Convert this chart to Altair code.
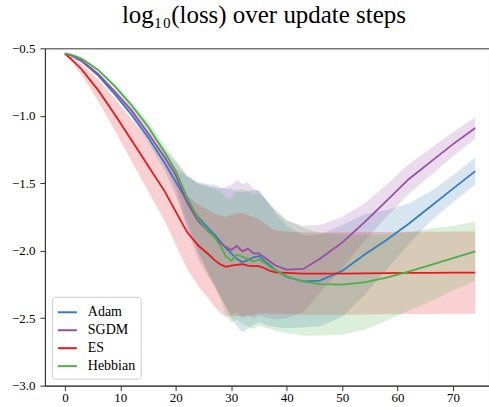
import altair as alt
import pandas as pd

# Update steps at which the curves are sampled
steps = [0, 1, 3, 6, 9, 12, 15, 18, 20, 22, 24, 26, 27, 28, 29, 30, 31, 32, 33,
         34, 35, 36, 37, 38, 40, 43, 46, 50, 54, 58, 62, 66, 70, 74]

methods = ["Adam", "SGDM", "ES", "Hebbian"]
colors = ["#377eb8", "#984ea3", "#e41a1c", "#4daf4a"]

# Mean log10(loss) per method
adam_mean = [-0.54, -0.55, -0.595, -0.70, -0.84, -0.99, -1.16, -1.35, -1.49, -1.63, -1.75,
             -1.84, -1.88, -1.93, -1.98, -2.02, -2.06, -2.085, -2.07, -2.05, -2.04, -2.075,
             -2.11, -2.145, -2.195, -2.228, -2.222, -2.15, -2.03, -1.92, -1.80, -1.67, -1.54, -1.41]
sgdm_mean = [-0.54, -0.55, -0.59, -0.69, -0.82, -0.96, -1.13, -1.31, -1.44, -1.64, -1.78,
             -1.86, -1.90, -1.94, -1.97, -1.995, -1.965, -2.005, -1.985, -2.02, -2.02, -2.05,
             -2.08, -2.11, -2.14, -2.135, -2.06, -1.94, -1.79, -1.63, -1.47, -1.34, -1.21, -1.09]
es_mean = [-0.54, -0.575, -0.655, -0.81, -0.99, -1.18, -1.37, -1.56, -1.71, -1.86, -1.96,
           -2.03, -2.07, -2.10, -2.12, -2.11, -2.105, -2.10, -2.11, -2.115, -2.115, -2.13,
           -2.15, -2.16, -2.165, -2.17, -2.17, -2.17, -2.168, -2.166, -2.165, -2.165, -2.163, -2.163]
hebb_mean = [-0.545, -0.545, -0.575, -0.66, -0.78, -0.92, -1.08, -1.27, -1.41, -1.60, -1.76,
             -1.86, -1.90, -1.96, -2.04, -2.075, -2.03, -2.045, -2.06, -2.08, -2.065, -2.09,
             -2.12, -2.145, -2.19, -2.23, -2.248, -2.252, -2.235, -2.20, -2.155, -2.105, -2.055, -2.005]

# Standard deviation across runs
adam_std = [0.003, 0.005, 0.008, 0.012, 0.018, 0.025, 0.035, 0.06, 0.10, 0.18, 0.26,
            0.33, 0.37, 0.40, 0.44, 0.48, 0.50, 0.52, 0.51, 0.50, 0.49, 0.47,
            0.45, 0.42, 0.38, 0.34, 0.34, 0.34, 0.30, 0.22, 0.15, 0.11, 0.10, 0.10]
sgdm_std = [0.003, 0.005, 0.008, 0.012, 0.018, 0.025, 0.035, 0.06, 0.10, 0.20, 0.28,
            0.34, 0.37, 0.40, 0.44, 0.48, 0.49, 0.50, 0.49, 0.48, 0.46, 0.44,
            0.42, 0.40, 0.36, 0.32, 0.25, 0.19, 0.14, 0.12, 0.11, 0.10, 0.09, 0.08]
es_std = [0.005, 0.015, 0.04, 0.08, 0.12, 0.155, 0.19, 0.22, 0.245, 0.27, 0.30,
          0.33, 0.345, 0.36, 0.37, 0.375, 0.38, 0.38, 0.375, 0.365, 0.35, 0.335,
          0.32, 0.31, 0.305, 0.305, 0.305, 0.305, 0.305, 0.305, 0.305, 0.305, 0.305, 0.305]
hebb_std = [0.003, 0.004, 0.008, 0.012, 0.018, 0.025, 0.035, 0.05, 0.08, 0.16, 0.25,
            0.33, 0.36, 0.40, 0.43, 0.46, 0.48, 0.50, 0.50, 0.50, 0.49, 0.48,
            0.46, 0.45, 0.42, 0.40, 0.38, 0.37, 0.35, 0.32, 0.29, 0.27, 0.24, 0.22]

y_ticks = [-3.0, -2.5, -2.0, -1.5, -1.0, -0.5]
x_ticks = [0, 10, 20, 30, 40, 50, 60, 70]

rows = []
for name, means, stds in zip(methods,
                             [adam_mean, sgdm_mean, es_mean, hebb_mean],
                             [adam_std, sgdm_std, es_std, hebb_std]):
    for s, m, d in zip(steps, means, stds):
        rows.append({"step": s, "method": name, "mean": m,
                     "lo": m - d, "hi": m + d})
df = pd.DataFrame(rows)

serif = "Liberation Serif"
minus = "replace(format(datum.value, '{}'), '-', '\u2212')"

# plot frame is one pixel wider than the page so its right edge falls outside
x_scale = alt.Scale(domain=[-3.6, 76.48], nice=False, zero=False)
y_scale = alt.Scale(domain=[-3.0, -0.5], nice=False, zero=False)
color_scale = alt.Scale(domain=methods, range=colors)

axis_style = dict(title=None, grid=False, labelFont=serif, labelFontSize=13,
                  labelColor="black", domainColor="#333333", domainWidth=1,
                  tickColor="#333333", tickWidth=1, tickSize=5)

x_enc = alt.X("step:Q", scale=x_scale,
              axis=alt.Axis(values=x_ticks, labelExpr=minus.format("d"),
                            labelPadding=1, **axis_style))
y_axis = alt.Axis(values=y_ticks, labelExpr=minus.format(".1f"),
                  labelPadding=5, **axis_style)

base = alt.Chart(df)

# mean ± std bands
bands = base.mark_area(opacity=0.2).encode(
    x=x_enc,
    y=alt.Y("lo:Q", scale=y_scale, axis=y_axis),
    y2="hi:Q",
    color=alt.Color("method:N", scale=color_scale),
)

lines = base.mark_line(strokeWidth=1.8).encode(
    x=x_enc,
    y=alt.Y("mean:Q", scale=y_scale, axis=y_axis),
    color=alt.Color("method:N", scale=color_scale),
)

chart = alt.layer(bands, lines).properties(
    width=445,
    height=338,
    autosize=alt.AutoSizeParams(type="none"),
    padding={"left": 45, "top": 48, "right": 0, "bottom": 21},
    title=alt.TitleParams(
        "log\u2081\u2080(loss) over update steps",
        font=serif, fontSize=25, fontWeight="normal",
        anchor="middle", color="black", offset=14, dx=-3,
    ),
).configure_view(
    stroke="#333333", strokeWidth=1
).configure_legend(
    title=None, orient="bottom-left", offset=7, padding=5,
    strokeColor="#cccccc", fillColor="white", cornerRadius=3,
    labelFont=serif, labelFontSize=14, labelColor="black",
    symbolType="stroke", symbolSize=361, symbolStrokeWidth=2,
    symbolOpacity=1, rowPadding=0, labelOffset=10,
)

chart.save("out.html", embed_options={"renderer": "svg", "actions": False})
